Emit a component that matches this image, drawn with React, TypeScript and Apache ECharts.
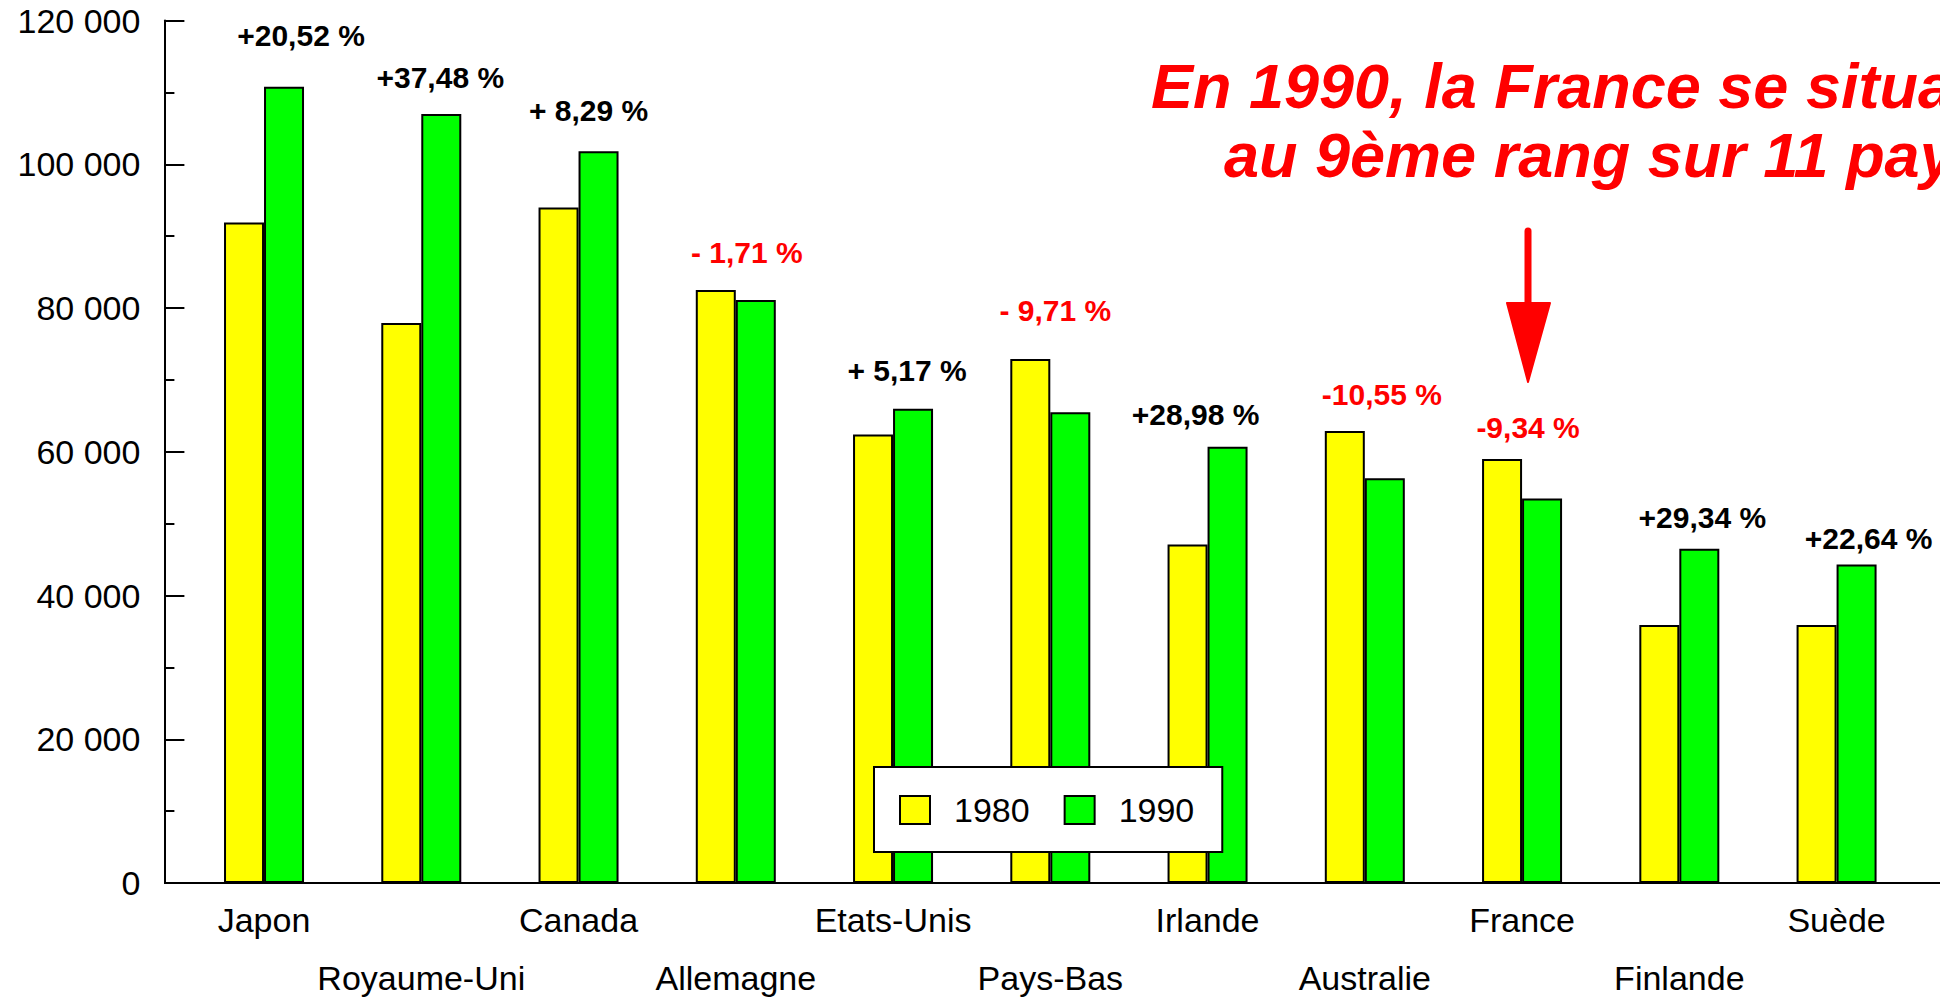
import React, { useEffect, useRef } from "react";
import * as echarts from "echarts";

const countries = [
  "Japon", "Royaume-Uni", "Canada", "Allemagne", "Etats-Unis", "Pays-Bas",
  "Irlande", "Australie", "France", "Finlande", "Suède",
];
const values1980 = [91900, 77900, 94000, 82500, 62400, 72900, 47100, 62900, 59000, 35900, 35900];
const values1990 = [110800, 107000, 101800, 81100, 66000, 65500, 60700, 56300, 53500, 46500, 44300];
const changeLabels = [
  "+20,52 %", "+37,48 %", "+ 8,29 %", "- 1,71 %", "+ 5,17 %", "- 9,71 %",
  "+28,98 %", "-10,55 %", "-9,34 %", "+29,34 %", "+22,64 %",
];
// vertical anchor of each change label, in axis units
const changeLabelAt = [117900, 112100, 107500, 87700, 71300, 79600, 65200, 68000, 63400, 50900, 47900];
const changeLabelShiftX = [37, 19, 10, 11, 14, 5, -12, 17, 6, 23, 32];
const yTicks = { min: 0, max: 120000, interval: 20000 };
const titleLines = ["En 1990, la France se situait", "au 9ème rang sur 11 pays"];

const FONT = '"Liberation Sans", Arial, Helvetica, sans-serif';

export default function App() {
  const ref = useRef<HTMLDivElement>(null);
  useEffect(() => {
    if (!ref.current) return;
    const chart = echarts.init(ref.current, undefined, { renderer: "svg" });
    const fmt = (v: number) => String(v).replace(/\B(?=(\d{3})+(?!\d))/g, " ");
    const option: any = {
      animation: false,
      backgroundColor: "#ffffff",
      textStyle: { fontFamily: FONT },
      grid: { left: 185.4, right: 24.8, top: 20.5, bottom: 114, containLabel: false, outerBoundsMode: "none" },
      legend: {
        data: ["1980", "1990"],
        left: 874,
        top: 767,
        orient: "horizontal",
        backgroundColor: "#ffffff",
        borderColor: "#000000",
        borderWidth: 2,
        padding: [26, 28, 25, 25],
        itemWidth: 30,
        itemHeight: 28,
        itemGap: 34,
        icon: "rect",
        itemStyle: { borderColor: "#000000", borderWidth: 2 },
        textStyle: { fontSize: 34, color: "#000000", fontFamily: FONT, lineHeight: 28, padding: [0, 0, 0, 19] },
        selectedMode: false,
      },
      xAxis: {
        type: "category",
        data: countries,
        axisLine: { show: false },
        axisTick: { show: false },
        axisLabel: {
          interval: 0,
          fontSize: 34,
          color: "#000000",
          fontFamily: FONT,
          lineHeight: 58,
          margin: 8,
          formatter: (v: string, i: number) => (i % 2 ? "\n" + v : v),
        },
      },
      yAxis: {
        type: "value",
        min: yTicks.min,
        max: yTicks.max,
        interval: yTicks.interval,
        offset: 21,
        splitLine: { show: false },
        axisLine: { show: true, lineStyle: { color: "#000000", width: 2 } },
        axisTick: { show: true, inside: true, length: 20, lineStyle: { color: "#000000", width: 2 } },
        minorTick: { show: true, splitNumber: 2, length: 10, lineStyle: { color: "#000000", width: 2 } },
        axisLabel: {
          fontSize: 34,
          color: "#000000",
          fontFamily: FONT,
          margin: 24,
          padding: [8, 0, 0, 0],
          formatter: (v: number) => fmt(v),
        },
      },
      series: [
        {
          name: "1980",
          type: "bar",
          data: values1980,
          barWidth: 40,
          barGap: "0%",
          itemStyle: { color: "#ffff00", borderColor: "#000000", borderWidth: 2 },
        },
        {
          name: "1990",
          type: "bar",
          data: values1990,
          barWidth: 40,
          barGap: "0%",
          itemStyle: { color: "#00ff00", borderColor: "#000000", borderWidth: 2 },
        },
        {
          name: "variation",
          type: "scatter",
          symbolSize: 0,
          silent: true,
          itemStyle: { opacity: 1 },
          data: changeLabels.map((t, i) => ({
            value: [i, changeLabelAt[i]],
            label: {
              show: true,
              position: "inside",
              offset: [changeLabelShiftX[i], 0],
              formatter: t,
              fontSize: 30,
              fontWeight: "bold",
              fontFamily: FONT,
              opacity: 1,
              color: values1990[i] < values1980[i] ? "#ff0000" : "#000000",
            },
          })),
        },
      ],
      graphic: [
        {
          type: "line",
          shape: { x1: 164, y1: 883, x2: 1940, y2: 883 },
          style: { stroke: "#000000", lineWidth: 2 },
          z: 10,
        },
        {
          type: "text",
          x: 1151,
          y: 86,
          style: {
            text: titleLines[0],
            fontSize: 63,
            fontWeight: "bold",
            fontStyle: "italic",
            fontFamily: FONT,
            fill: "#ff0000",
            align: "left",
            verticalAlign: "middle",
          },
        },
        {
          type: "text",
          x: 1224,
          y: 155,
          style: {
            text: titleLines[1],
            fontSize: 63,
            fontWeight: "bold",
            fontStyle: "italic",
            fontFamily: FONT,
            fill: "#ff0000",
            align: "left",
            verticalAlign: "middle",
          },
        },
        {
          type: "line",
          shape: { x1: 1528, y1: 231, x2: 1528, y2: 310 },
          style: { stroke: "#ff0000", lineWidth: 7, lineCap: "round" },
        },
        {
          type: "polygon",
          shape: { points: [[1507, 303], [1550, 303], [1528, 382]] },
          style: { fill: "#ff0000", stroke: "#ff0000", lineWidth: 2, lineJoin: "round" },
        },
      ],
    };
    chart.setOption(option);
    return () => chart.dispose();
  }, []);
  return (
    <div
      ref={ref}
      style={{ position: "absolute", left: 0, top: 0, width: 1940, height: 997 }}
    />
  );
}
